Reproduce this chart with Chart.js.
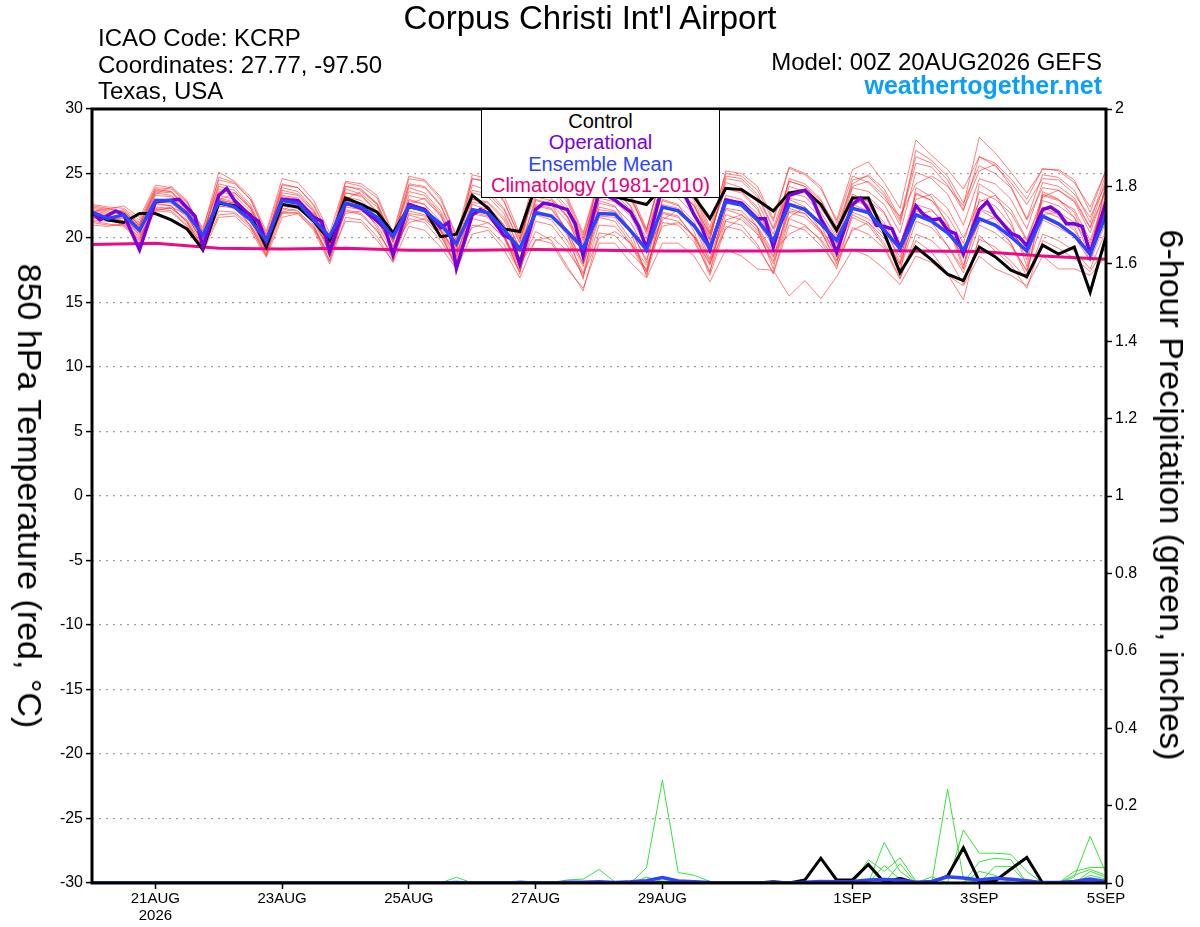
<!DOCTYPE html>
<html>
<head>
<meta charset="utf-8">
<title>Corpus Christi Int'l Airport - GEFS meteogram</title>
<script src="https://cdn.jsdelivr.net/npm/chart.js@4.4.1/dist/chart.umd.min.js"></script>
<style>
  body { margin: 0; background: #fff; }
  #wrap { position: relative; width: 1200px; height: 927px; font-family: "Liberation Sans", Arial, sans-serif; color: #000; }
  #wrap canvas { position: absolute; left: 0; top: 0; }
  .txt { position: absolute; line-height: 1; white-space: nowrap; }
  .axis-title { position: absolute; line-height: 1; white-space: nowrap; font-size: 34px; transform: translate(-50%, -50%) rotate(90deg); }
  #legend { position: absolute; left: 481px; top: 110px; width: 237px; height: 86px; background: #fff;
            border: 1px solid #000; border-top: none; text-align: center; font-size: 20px; line-height: 21.3px; padding-top: 1px; }
</style>
</head>
<body>
<div id="wrap">
  <canvas id="meteogram" width="1200" height="927"></canvas>
  <div class="txt" style="left:0;width:1180px;text-align:center;top:1px;font-size:33px;">Corpus Christi Int'l Airport</div>
  <div class="txt" style="left:98px;top:26px;font-size:24px;">ICAO Code: KCRP</div>
  <div class="txt" style="left:98px;top:53px;font-size:24px;">Coordinates: 27.77, -97.50</div>
  <div class="txt" style="left:98px;top:79px;font-size:24px;">Texas, USA</div>
  <div class="txt" style="right:98px;top:50px;font-size:24px;">Model: 00Z 20AUG2026 GEFS</div>
  <div class="txt" style="right:98px;top:73px;font-size:25px;font-weight:bold;color:#0aa0f5;">weathertogether.net</div>
  <div class="axis-title" style="left:30px;top:496px;">850 hPa Temperature (red, °C)</div>
  <div class="axis-title" style="left:1172px;top:495px;">6-hour Precipitation (green, inches)</div>
  <div id="legend">
    <div style="color:#000">Control</div>
    <div style="color:#7b00dc">Operational</div>
    <div style="color:#2a45ff">Ensemble Mean</div>
    <div style="color:#e8007c">Climatology (1981-2010)</div>
  </div>
</div>
<script>
// forecast hours, 6-hourly from 00Z 20AUG2026 to 00Z 5SEP2026
const hours = Array.from({ length: 65 }, (_, i) => i * 6);

const tickHours = [24, 72, 120, 168, 216, 288, 336, 384];
const tickLabels = [['21AUG', '2026'], '23AUG', '25AUG', '27AUG', '29AUG', '1SEP', '3SEP', '5SEP'];

// 850 hPa temperature, degC
const controlTemp = [
  21.9, 21.4, 21.2, 21.9,  21.9, 21.4, 20.7, 19.1,  22.7, 22.5, 21.8, 19.3,  22.6, 22.4, 21.3, 19.8,
  23.1, 22.6, 22.0, 20.4,  22.4, 22.2, 20.1, 20.3,  23.3, 22.3, 20.7, 20.5,  24.0, 23.9, 23.6, 23.5,
  23.4, 23.2, 22.9, 22.6,  24.0, 23.9, 23.2, 21.5,  23.85, 23.75, 22.95, 22.1,  23.5, 23.7, 22.6, 20.6,
  23.1, 23.1, 20.4, 17.3,  19.3, 18.3, 17.2, 16.7,  19.3, 18.55, 17.5, 17.0,  19.45, 18.75, 19.3, 15.8,
  20.1
];

const meanTemp = [
  22.0, 21.5, 21.8, 20.6,  22.9, 22.9, 21.9, 20.2,  22.8, 22.4, 21.4, 19.8,  22.9, 22.7, 21.4, 20.1,
  22.7, 22.4, 21.6, 20.1,  22.45, 22.1, 21.1, 19.55,  22.2, 21.95, 20.65, 19.15,  21.95, 21.7, 20.5, 19.2,
  21.9, 21.85, 20.55, 19.1,  22.4, 22.1, 20.95, 19.25,  22.8, 22.55, 21.4, 19.8,  22.6, 22.2, 21.1, 19.8,
  22.3, 21.97, 20.6, 19.2,  21.8, 21.3, 20.4, 19.07,  21.5, 21.0, 20.1, 19.0,  21.7, 21.1, 20.2, 18.75,
  21.8
];

// operational run is 3-hourly; only the visible vertices are listed
const opHours = [
  0, 3, 9, 12, 18, 24, 33, 39, 42, 48, 51, 54, 60, 63, 66, 72, 78, 84, 87, 90,
  96, 102, 108, 111, 114, 120, 126, 132, 135, 138, 144, 147, 150, 156, 159, 162, 168, 171, 174, 180,
  183, 186, 192, 198, 204, 207, 210, 216, 222, 225, 228, 231, 234, 240, 246, 252, 255, 258, 264, 270,
  273, 276, 279, 282, 288, 291, 294, 297, 300, 303, 306, 312, 315, 318, 321, 324, 327, 330, 336, 339,
  342, 348, 351, 354, 360, 363, 366, 369, 372, 375, 378, 384
];
const opTemp = [
  22.0, 21.4, 22.1, 21.8, 19.1, 22.8, 23.0, 21.7, 19.3, 23.3, 23.85, 22.9, 21.7, 21.3, 19.7, 23.0, 22.9, 21.6, 21.3, 18.9,
  22.7, 22.3, 21.3, 20.75, 18.7, 22.6, 22.2, 20.8, 21.2, 17.65, 21.8, 22.2, 21.9, 20.2, 19.9, 18.0, 22.2, 22.7, 22.6, 22.2,
  21.1, 18.6, 23.6, 22.95, 22.0, 20.9, 19.2, 24.0, 23.6, 23.1, 21.8, 20.8, 19.1, 22.95, 22.7, 21.5, 21.5, 19.3, 23.3, 23.7,
  22.95, 21.5, 20.4, 18.9, 22.6, 23.1, 22.2, 21.0, 20.9, 20.7, 19.2, 22.5, 21.8, 21.4, 21.5, 20.6, 20.35, 18.8, 22.2, 22.8,
  21.8, 20.35, 20.1, 19.4, 22.2, 22.4, 22.0, 21.1, 21.1, 20.9, 18.8, 22.8
];

// 1981-2010 climatology, daily at 00Z
const climHours = [0, 24, 48, 72, 96, 120, 144, 168, 192, 216, 240, 264, 288, 312, 336, 360, 384];
const climTemp = [19.5, 19.6, 19.2, 19.15, 19.2, 19.05, 19.05, 19.1, 19.05, 19.0, 19.0, 19.0, 19.05, 19.0, 18.95, 18.6, 18.35];

// GEFS members, 850 hPa temperature
const memberTemps = [
  [22.4,22.2,22.5,21.6, 24.1,23.9,22.8,20.6, 25.1,24.4,23.2,20.5, 24.6,24.3,22.9,20.4, 24.3,24.0,23.1,20.2,
   24.6,24.4,23.0,20.1, 24.9,24.6,23.3,20.3, 25.2,24.8,23.2,20.4, 24.6,24.3,23.2,20.6, 25.5,25.2,23.8,20.8,
   25.0,24.8,23.7,21.3, 25.4,24.9,23.8,21.4, 25.3,25.9,24.3,22.3, 27.6,26.4,25.3,23.8, 26.3,25.8,24.6,23.0,
   25.4,25.2,24.3,22.4, 25.2],
  [21.3,21.1,20.9,19.7, 22.1,22.0,20.9,18.9, 21.6,21.7,20.6,18.5, 21.6,21.9,20.6,18.0, 21.6,21.4,20.1,18.1,
   20.9,20.6,19.3,17.6, 20.3,20.6,19.1,16.9, 19.9,19.6,17.6,16.1, 19.6,19.6,18.1,16.9, 19.6,19.6,18.6,16.6,
   19.1,18.6,17.6,17.5, 15.5,16.7,15.3,17.0, 19.1,18.6,17.6,16.4, 18.6,18.1,17.1,16.3, 18.6,17.6,17.1,16.3,
   18.6,17.6,17.6,17.1, 18.6],
  [22.0,21.8,22.1,21.0, 23.6,23.5,22.4,20.2, 24.2,23.9,22.6,19.9, 23.9,23.6,22.2,19.6, 23.8,23.4,22.4,19.7,
   23.9,23.5,22.1,19.5, 24.1,23.7,22.3,19.7, 24.0,23.8,22.4,19.8, 23.8,23.6,22.5,19.9, 24.6,24.2,22.9,20.1,
   24.3,23.9,22.8,20.3, 24.4,24.0,22.6,20.2, 24.5,24.8,23.5,21.3, 25.8,25.5,24.1,22.1, 26.3,25.6,24.3,22.6,
   24.6,24.5,23.4,21.6, 24.2],
  [21.7,21.4,21.5,20.4, 23.0,22.9,21.8,19.6, 23.1,22.8,21.6,19.1, 23.2,23.0,21.5,19.3, 22.9,22.6,21.6,19.0,
   22.6,22.3,20.9,18.6, 22.3,22.0,20.7,18.4, 22.5,22.2,20.5,18.0, 22.2,22.0,20.6,18.3, 22.6,22.3,21.1,18.9,
   22.9,22.5,21.2,19.4, 22.7,22.3,21.0,19.5, 22.6,22.1,20.7,18.5, 22.1,21.6,20.4,18.6, 22.3,21.8,20.6,18.8,
   22.1,21.6,20.6,18.7, 22.2],
  [21.5,21.6,21.2,20.0, 22.6,22.5,21.2,19.3, 22.5,22.3,21.0,18.8, 22.3,22.1,20.8,18.2, 22.2,21.9,20.6,18.5,
   21.8,21.4,20.2,17.8, 21.5,21.2,20.0,17.4, 21.3,21.0,19.4,17.0, 21.0,20.9,19.5,17.2, 21.2,21.0,19.7,17.4,
   21.3,21.0,19.5,17.2, 21.0,20.6,19.4,17.8, 20.8,20.3,19.2,16.8, 20.3,19.8,18.6,16.4, 19.9,19.3,18.2,16.8,
   20.3,19.8,19.0,17.6, 20.6],
  [22.6,22.4,22.3,21.4, 23.9,23.8,22.7,20.8, 24.5,24.2,23.0,20.3, 24.2,23.9,22.6,20.1, 22.9,22.6,21.4,19.1,
   23.3,23.0,21.7,19.2, 23.5,23.2,21.9,19.1, 24.5,24.3,23.0,20.2, 24.3,24.1,23.0,20.5, 25.2,24.9,23.6,20.5,
   23.8,23.5,22.2,19.8, 24.0,23.6,22.3,20.6, 24.0,24.4,23.3,21.0, 26.8,26.0,24.8,22.7, 25.6,25.0,23.9,21.4,
   23.9,23.7,22.9,20.8, 23.7],
  [21.9,21.6,21.8,20.6, 22.8,22.7,21.6,19.8, 23.3,23.0,21.9,19.6, 22.7,22.5,21.2,18.9, 23.2,22.9,21.6,19.3,
   22.1,21.8,20.5,18.3, 21.9,21.6,20.2,17.8, 20.5,19.8,17.8,15.9, 20.4,20.2,18.8,17.6, 21.6,21.3,20.1,18.0,
   21.8,21.4,20.3,18.2, 22.0,21.6,20.4,18.9, 21.8,21.2,19.6,17.6, 21.3,20.8,19.4,17.3, 21.0,20.4,19.4,17.5,
   21.4,20.8,20.1,18.2, 21.3],
  [22.2,22.0,21.9,20.8, 23.3,23.2,22.1,19.9, 23.6,23.3,22.1,19.9, 23.5,23.3,22.0,19.7, 23.5,23.2,22.0,19.8,
   22.9,22.6,21.3,19.0, 23.0,22.7,21.4,18.9, 23.2,22.9,21.7,19.2, 23.1,22.8,21.7,19.3, 23.4,23.1,21.8,19.4,
   23.3,23.0,21.9,19.8, 23.1,22.8,21.6,19.9, 23.2,22.9,21.9,19.4, 23.4,22.9,21.7,19.6, 23.6,23.0,21.9,19.8,
   22.9,22.5,21.6,19.6, 22.9],
  [21.4,21.3,21.6,20.2, 22.4,22.3,21.4,19.5, 22.1,22.0,21.0,19.0, 22.6,22.4,21.3,19.1, 24.4,24.2,23.3,20.4,
   24.8,24.5,23.2,20.2, 23.0,22.8,21.6,19.3, 22.9,22.6,21.3,19.0, 22.7,22.4,21.2,18.9, 23.9,23.6,22.5,20.3,
   25.2,25.0,24.0,21.5, 25.5,25.0,24.0,21.2, 24.8,24.3,23.0,21.7, 24.2,24.8,24.0,22.5, 27.8,26.6,25.1,23.5,
   25.3,25.3,24.5,22.0, 25.3],
  [21.2,21.0,21.0,19.9, 22.3,22.1,21.0,19.1, 22.8,22.6,21.3,19.3, 22.0,21.9,20.7,18.6, 22.1,21.8,20.5,18.7,
   21.5,21.2,19.8,17.9, 21.0,20.8,19.5,17.4, 21.8,21.4,19.8,17.3, 21.6,21.3,19.6,17.4, 22.0,21.7,20.0,17.1,
   20.9,20.6,19.3,17.3, 21.5,21.0,19.8,17.6, 22.0,21.5,20.2,18.0, 21.9,21.2,19.4,17.6, 22.2,21.5,19.6,17.4,
   22.4,21.8,20.9,18.2, 22.6],
  [22.1,21.9,22.2,21.2, 23.8,23.6,22.5,20.5, 24.0,23.7,22.4,20.0, 23.7,23.4,22.1,19.9, 23.5,23.3,22.1,19.9,
   24.2,24.0,22.6,19.8, 24.6,24.3,22.9,19.9, 24.0,23.6,22.1,19.5, 24.7,24.5,23.3,20.3, 24.2,23.8,22.6,19.9,
   24.6,24.4,23.2,20.7, 23.5,23.2,22.0,20.0, 23.9,23.6,22.6,20.4, 25.1,24.6,23.4,21.0, 24.6,24.2,23.0,20.7,
   24.3,24.0,23.1,20.8, 24.6],
  [21.8,21.7,21.3,20.3, 22.9,22.8,21.7,19.6, 22.9,22.7,21.3,19.0, 22.9,22.7,21.4,19.0, 22.4,22.2,21.0,18.9,
   22.4,22.1,20.7,18.5, 22.8,22.5,21.0,18.4, 22.1,21.8,20.2,17.8, 22.4,22.1,20.7,18.1, 22.9,22.5,21.3,18.4,
   22.2,21.8,20.6,18.5, 22.3,21.9,20.5,18.3, 21.6,21.0,19.4,16.9, 19.8,18.9,17.2,15.2, 20.2,19.0,17.9,16.1,
   19.8,19.2,18.4,17.4, 19.3],
  [22.0,22.3,21.9,20.9, 23.4,24.0,22.9,20.4, 22.9,23.5,22.4,19.4, 22.1,22.8,21.9,19.2, 23.0,23.6,22.6,19.6,
   22.6,23.1,21.8,18.9, 21.7,22.4,21.0,17.8, 22.3,23.0,21.6,18.6, 23.4,23.9,22.4,19.0, 21.4,22.2,21.0,18.1,
   20.7,21.6,20.4,18.0, 21.6,22.4,21.0,18.5, 22.5,23.2,22.0,19.6, 23.0,23.4,22.3,20.0, 22.8,23.3,22.2,19.9,
   23.2,23.7,22.8,20.4, 23.9],
  [21.6,21.5,21.7,20.9, 22.1,22.4,21.8,20.3, 22.4,22.6,21.9,20.0, 22.0,22.3,21.6,19.5, 21.9,22.1,21.3,19.4,
   21.2,21.5,20.6,18.8, 20.8,21.2,20.1,18.0, 19.8,20.1,19.0,17.2, 20.0,20.5,19.6,17.9, 20.9,21.2,20.2,18.3,
   21.4,21.8,20.9,18.9, 20.3,20.9,19.9,18.2, 20.6,21.2,20.0,17.9, 21.8,22.1,21.0,18.7, 21.2,21.6,20.6,18.9,
   21.8,22.0,21.2,19.4, 22.2],
  [22.3,22.1,22.0,21.0, 23.5,23.3,22.2,20.1, 24.7,24.3,23.0,20.2, 23.3,23.1,21.8,19.4, 24.0,23.7,22.7,20.0,
   23.6,23.3,21.9,19.3, 24.6,24.4,22.8,20.1, 23.4,23.1,21.7,19.0, 24.9,24.6,23.5,20.7, 25.0,24.7,23.3,20.3,
   23.9,23.6,22.4,19.6, 24.6,24.2,23.0,20.4, 23.0,22.6,21.2,18.9, 22.6,22.2,20.8,18.4, 23.0,22.5,21.0,18.3,
   23.4,23.0,22.0,19.1, 24.0],
  [21.0,20.9,21.1,20.1, 22.2,22.3,21.3,19.2, 21.8,21.9,20.8,18.7, 21.9,22.0,20.9,18.6, 21.3,21.2,19.8,18.2,
   21.9,21.7,20.2,18.0, 22.0,21.7,20.1,17.6, 22.6,22.3,20.6,18.0, 21.7,21.6,19.9,17.4, 21.9,21.6,20.1,17.9,
   22.3,22.1,20.8,18.6, 22.1,21.9,20.6,19.0, 22.9,22.5,21.0,18.1, 23.5,22.9,21.2,17.9, 21.4,20.9,19.6,17.0,
   23.3,22.9,22.2,19.8, 23.3],
  [22.5,22.3,22.0,21.1, 23.7,23.6,22.3,20.3, 23.8,23.5,22.3,19.8, 24.1,23.9,22.5,20.0, 24.0,23.8,22.6,20.0,
   24.1,23.9,22.5,19.8, 23.7,23.4,22.2,19.6, 24.4,24.1,22.8,20.0, 23.6,23.4,22.2,19.5, 24.0,23.7,22.5,19.8,
   24.8,24.6,23.4,20.8, 24.4,24.0,22.9,20.9, 24.2,24.9,23.8,21.5, 26.3,25.8,24.5,22.2, 25.2,25.7,24.0,21.5,
   24.9,24.7,23.7,21.2, 25.0],
  [21.8,21.5,21.0,19.8, 22.7,22.5,21.2,18.9, 23.0,22.7,20.9,18.6, 23.1,22.8,21.0,18.2, 22.7,22.5,20.8,18.3,
   23.0,22.6,20.6,17.5, 22.6,22.2,20.3,17.2, 23.0,22.6,20.4,16.8, 22.9,22.5,20.5,17.0, 23.0,22.6,20.5,17.3,
   23.1,22.7,20.8,17.6, 23.0,22.4,20.6,18.0, 23.4,22.8,20.4,17.2, 23.9,23.2,21.0,17.6, 24.2,23.4,21.3,17.8,
   23.6,23.0,21.6,18.5, 24.4]
];

// 6-hour precipitation, inches
const controlRain = [
  0, 0, 0, 0,  0, 0, 0, 0,  0, 0, 0, 0,  0, 0, 0, 0,  0, 0, 0, 0,  0, 0, 0, 0,  0, 0, 0, 0,  0, 0, 0, 0,
  0, 0, 0, 0,  0, 0, 0, 0,  0, 0, 0, 0.003,  0, 0.008, 0.064, 0.008,  0.008, 0.048, 0.002, 0.012,
  0, 0.002, 0.018, 0.091,  0.005, 0.005, 0.036, 0.066,  0, 0, 0, 0,  0
];
const meanRain = [
  0, 0, 0, 0,  0, 0, 0, 0,  0, 0, 0, 0,  0, 0, 0, 0,  0, 0, 0, 0,  0, 0, 0, 0.001,  0, 0, 0, 0.001,  0, 0, 0.002, 0.002,
  0.003, 0.001, 0.003, 0.006,  0.014, 0.005, 0.003, 0.001,  0, 0, 0, 0.001,  0, 0.002, 0.004, 0.003,
  0.004, 0.008, 0.009, 0.007,  0.002, 0.004, 0.016, 0.013,  0.008, 0.012, 0.01, 0.006,  0.001, 0.001, 0.004, 0.01,
  0.004
];
// members: [step, inches] for the steps with rain, zero elsewhere
const memberRain = [
  [[35, 0.04], [36, 0.266], [37, 0.027], [38, 0.02], [39, 0.004]],
  [[23, 0.015], [50, 0.105], [51, 0.03]],
  [[30, 0.008], [31, 0.01], [32, 0.035], [33, 0.003], [54, 0.243], [55, 0.01]],
  [[35, 0.015], [36, 0.004], [49, 0.06], [50, 0.03], [51, 0.065], [52, 0.005]],
  [[55, 0.137], [56, 0.077], [57, 0.077], [58, 0.074], [59, 0.03]],
  [[49, 0.047], [51, 0.05], [56, 0.055], [57, 0.064], [58, 0.06]],
  [[57, 0.043], [58, 0.043], [62, 0.015], [63, 0.121], [64, 0.025]],
  [[53, 0.016], [62, 0.03], [63, 0.04], [64, 0.04]],
  [[27, 0.005], [28, 0.003], [63, 0.03], [64, 0.015]],
  [[63, 0.02], [64, 0.01]],
  [[36, 0.005], [37, 0.005]],
  [[51, 0.012]],
  [],
  [[50, 0.045], [51, 0.01]],
  [],
  [[56, 0.03], [57, 0.02]],
  [],
  [[62, 0.02], [63, 0.035], [64, 0.02]]
];

const FONT = '"Liberation Sans", Arial, sans-serif';

function pts(xs, ys) {
  return ys.map((v, i) => ({ x: xs[i], y: v }));
}
function rainSeries(pairs) {
  const vals = hours.map(() => 0);
  pairs.forEach(([s, v]) => { vals[s] = v; });
  return pts(hours, vals);
}

const datasets = [];
// lower order is drawn on top
memberTemps.forEach(m => datasets.push({
  data: pts(hours, m), yAxisID: 'y', borderColor: 'rgba(255,45,45,0.6)', borderWidth: 1, order: 9
}));
memberRain.forEach(m => datasets.push({
  data: rainSeries(m), yAxisID: 'y2', borderColor: '#3ce03c', borderWidth: 1, order: 8
}));
datasets.push({ data: pts(hours, controlRain), yAxisID: 'y2', borderColor: '#000', borderWidth: 3, order: 7 });
datasets.push({ data: pts(hours, meanRain), yAxisID: 'y2', borderColor: '#2a45ff', borderWidth: 3.5, order: 6 });
datasets.push({ data: pts(climHours, climTemp), yAxisID: 'y', borderColor: '#ee0a84', borderWidth: 3, order: 4 });
datasets.push({ data: pts(hours, controlTemp), yAxisID: 'y', borderColor: '#000', borderWidth: 3, order: 3 });
datasets.push({ data: pts(opHours, opTemp), yAxisID: 'y', borderColor: '#7b00dc', borderWidth: 3.5, order: 2 });
datasets.push({ data: pts(hours, meanTemp), yAxisID: 'y', borderColor: '#2a45ff', borderWidth: 3.5, order: 1 });

const framePlugin = {
  id: 'frame',
  afterDatasetsDraw(chart) {
    const { left, top, right, bottom } = chart.chartArea;
    const ctx = chart.ctx;
    ctx.save();
    ctx.lineWidth = 3;
    ctx.strokeStyle = '#000';
    ctx.strokeRect(left, top, right - left, bottom - top);
    ctx.restore();
  }
};

new Chart(document.getElementById('meteogram'), {
  type: 'line',
  data: { datasets },
  options: {
    responsive: false,
    animation: false,
    devicePixelRatio: 1,
    layout: { padding: { top: 109, left: 0, right: 0, bottom: 0 } },
    elements: {
      point: { radius: 0 },
      line: { tension: 0, fill: false, borderJoinStyle: 'miter' }
    },
    plugins: { legend: { display: false }, tooltip: { enabled: false } },
    scales: {
      x: {
        type: 'linear',
        min: 0,
        max: 384,
        afterBuildTicks: s => { s.ticks = tickHours.map(v => ({ value: v })); },
        afterFit: s => { s.height = 44; },
        ticks: {
          callback: (v, i) => tickLabels[i],
          autoSkip: false,
          maxRotation: 0,
          color: '#000',
          padding: 2,
          font: { family: FONT, size: 15, lineHeight: 1.1 }
        },
        grid: { drawOnChartArea: false, tickLength: 6, tickColor: '#000', tickWidth: 1.5 },
        border: { display: false }
      },
      y: {
        position: 'left',
        min: -30,
        max: 30,
        afterFit: s => { s.width = 92; },
        ticks: { stepSize: 5, color: '#000', padding: 3, font: { family: FONT, size: 16 } },
        grid: {
          color: c => (Math.abs(c.tick.value) === 30 ? 'rgba(0,0,0,0)' : '#a0a0a0'),
          lineWidth: 1.2,
          tickLength: 6,
          tickColor: '#000',
          tickWidth: 1.5
        },
        border: { display: false, dash: [2, 5] }
      },
      y2: {
        position: 'right',
        min: 0,
        max: 2,
        afterFit: s => { s.width = 94; },
        ticks: {
          stepSize: 0.2,
          color: '#000',
          padding: 3,
          font: { family: FONT, size: 16 },
          callback: v => String(Math.round(v * 10) / 10)
        },
        grid: { drawOnChartArea: false, tickLength: 6, tickColor: '#000', tickWidth: 1.5 },
        border: { display: false }
      }
    }
  },
  plugins: [framePlugin]
});
</script>
</body>
</html>
